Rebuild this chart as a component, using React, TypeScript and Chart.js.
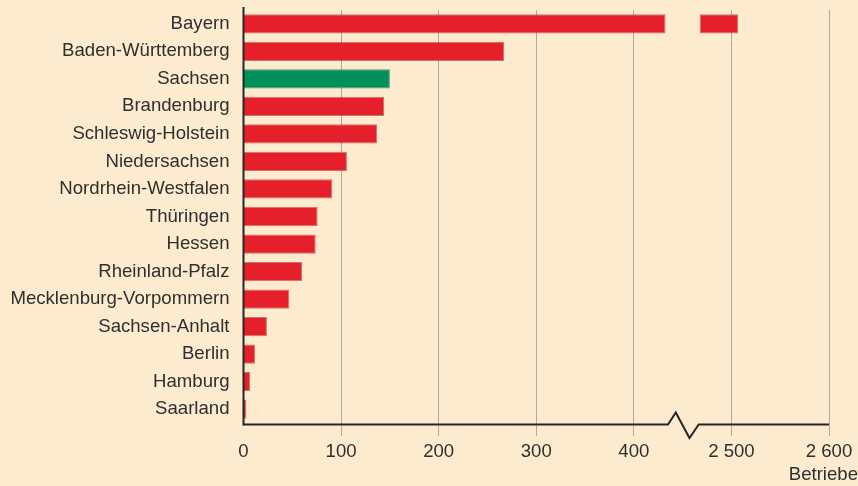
import React, { useEffect, useRef } from "react";
import { Chart, registerables } from "chart.js";

Chart.register(...registerables);

const states = [
  "Bayern",
  "Baden-Württemberg",
  "Sachsen",
  "Brandenburg",
  "Schleswig-Holstein",
  "Niedersachsen",
  "Nordrhein-Westfalen",
  "Thüringen",
  "Hessen",
  "Rheinland-Pfalz",
  "Mecklenburg-Vorpommern",
  "Sachsen-Anhalt",
  "Berlin",
  "Hamburg",
  "Saarland",
];
const betriebe = [2507, 267, 150, 144, 137, 106, 91, 76, 74, 60, 47, 24, 12, 7, 3];
const highlight = ["Sachsen"];
const xTickValues = [0, 100, 200, 300, 400, 2500, 2600];
const axisTitle = "Betriebe";

// axis break: values above BREAK_AT are shown shifted down by SHIFT
const BREAK_AT = 450;
const SHIFT = 2000;
const GAP = 17.5;

const toDisplay = (v: number) => (v > BREAK_AT ? v - SHIFT : v);
const fromDisplay = (d: number) => (d > BREAK_AT ? d + SHIFT : d);

const RED = "#e6202a";
const GREEN = "#00905a";
const BG = "#fdebd0";
const TEXT = "#2f2f2f";
const FONT = "'Liberation Sans', Arial, Helvetica, sans-serif";
const FONT_SIZE = 18.6;

export default function App() {
  const ref = useRef<HTMLCanvasElement | null>(null);

  useEffect(() => {
    document.body.style.margin = "0";
    const canvas = ref.current;
    if (!canvas) return;

    const lower = betriebe.map((v) => (v > BREAK_AT ? [0, BREAK_AT - GAP] : [0, v]));
    const upper = betriebe.map((v) => (v > BREAK_AT ? [BREAK_AT + GAP, toDisplay(v)] : null));
    const colors = states.map((s) => (highlight.includes(s) ? GREEN : RED));
    const borders = states.map((s) => (highlight.includes(s) ? "rgba(0,90,50,0.6)" : "rgba(160,20,25,0.55)"));
    const displayTicks = xTickValues.map(toDisplay);

    const decor = {
      id: "decor",
      beforeDraw(chart: any) {
        const { ctx, width, height } = chart;
        ctx.save();
        ctx.fillStyle = BG;
        ctx.fillRect(0, 0, width, height);
        ctx.restore();
      },
      afterDraw(chart: any) {
        const { ctx, chartArea } = chart;
        const xs = chart.scales.x;
        const y0 = chartArea.bottom + 1.5;
        const left = xs.getPixelForValue(0);
        ctx.save();
        ctx.strokeStyle = "#262626";
        ctx.lineWidth = 2;
        ctx.lineJoin = "miter";
        // y axis
        ctx.beginPath();
        ctx.moveTo(left, chartArea.top - 3);
        ctx.lineTo(left, y0 + 1);
        ctx.stroke();
        // x axis with break
        ctx.beginPath();
        ctx.moveTo(left, y0);
        ctx.lineTo(xs.getPixelForValue(BREAK_AT - 15), y0);
        ctx.lineTo(xs.getPixelForValue(BREAK_AT - 7), y0 - 12);
        ctx.lineTo(xs.getPixelForValue(BREAK_AT + 7), y0 + 13.5);
        ctx.lineTo(xs.getPixelForValue(BREAK_AT + 16.5), y0);
        ctx.lineTo(xs.getPixelForValue(toDisplay(2600)), y0);
        ctx.stroke();
        // axis title
        ctx.fillStyle = TEXT;
        ctx.font = `${FONT_SIZE}px ${FONT}`;
        ctx.textAlign = "right";
        ctx.textBaseline = "middle";
        ctx.fillText(axisTitle, chart.width, 475);
        ctx.restore();
      },
    };

    const chart = new Chart(canvas, {
      type: "bar",
      data: {
        labels: states,
        datasets: [
          {
            data: lower as any,
            backgroundColor: colors,
            borderColor: borders,
            borderWidth: 1,
            grouped: false,
            barPercentage: 0.7,
            categoryPercentage: 1,
          },
          {
            data: upper as any,
            backgroundColor: colors,
            borderColor: borders,
            borderWidth: 1,
            borderSkipped: false,
            grouped: false,
            barPercentage: 0.7,
            categoryPercentage: 1,
          },
        ],
      },
      options: {
        indexAxis: "y",
        animation: false,
        responsive: false,
        maintainAspectRatio: false,
        layout: { padding: { top: 10, right: 29, left: 0, bottom: 0 } },
        plugins: { legend: { display: false }, tooltip: { enabled: false } },
        scales: {
          x: {
            type: "linear",
            min: 0,
            max: toDisplay(2600),
            afterBuildTicks: (scale: any) => {
              scale.ticks = displayTicks.map((v) => ({ value: v }));
            },
            afterFit: (scale: any) => {
              scale.height = 63;
              scale.paddingLeft = 0;
              scale.paddingRight = 0;
            },
            border: { display: false },
            grid: {
              color: (c: any) => (c.tick && c.tick.value === 0 ? "rgba(0,0,0,0)" : "#b3aa9c"),
              lineWidth: 1,
              tickLength: 13,
              drawTicks: true,
            },
            ticks: {
              padding: 5,
              color: TEXT,
              font: { size: FONT_SIZE, family: FONT },
              callback: (v: any) => {
                const n = fromDisplay(Number(v));
                return n >= 1000 ? `${Math.floor(n / 1000)} ${String(n % 1000).padStart(3, "0")}` : String(n);
              },
            },
          },
          y: {
            afterFit: (scale: any) => {
              scale.width = 243.5;
              scale.paddingTop = 0;
              scale.paddingBottom = 0;
            },
            border: { display: false },
            grid: { display: false, drawTicks: false },
            ticks: {
              padding: 14,
              color: TEXT,
              font: { size: FONT_SIZE, family: FONT },
              autoSkip: false,
            },
          },
        },
      },
      plugins: [decor],
    });

    return () => chart.destroy();
  }, []);

  return (
    <div style={{ width: 858, height: 486 }}>
      <canvas ref={ref} width={858} height={486} style={{ display: "block" }} />
    </div>
  );
}
